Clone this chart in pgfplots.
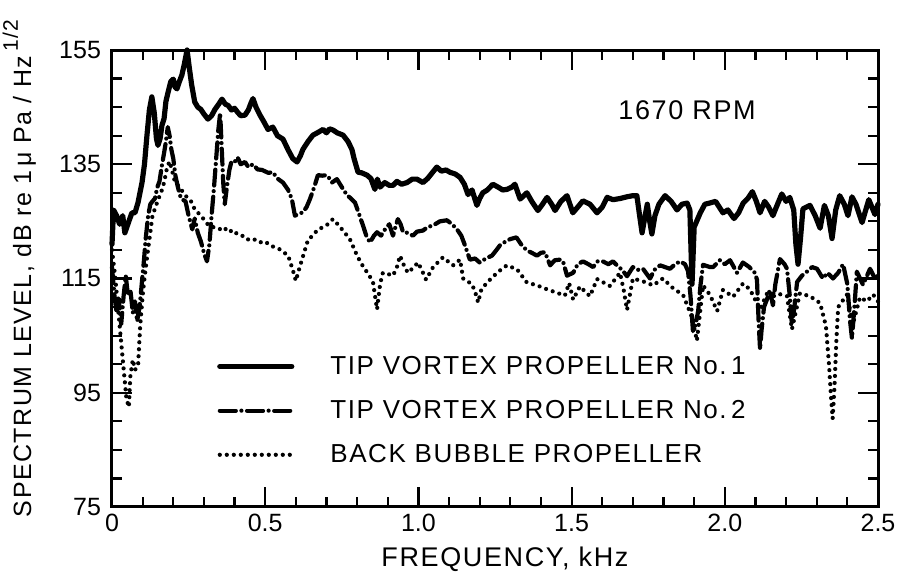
\documentclass[border=0pt]{standalone}
\usepackage{fontspec}
\setmainfont{Liberation Sans}
\newfontfamily\lt[LetterSpace=6]{Liberation Sans}
\usepackage{pgfplots}
\pgfplotsset{compat=1.18}
\begin{document}
\begin{tikzpicture}
\begin{axis}[
  at={(0,0)}, anchor=south west,
  scale only axis, width=383pt, height=228.5pt,
  xmin=0, xmax=2.5, ymin=75, ymax=155,
  xtick={0,0.5,1,1.5,2,2.5}, xticklabels={0,0.5,1.0,1.5,2.0,2.5},
  ytick={75,95,115,135,155}, yticklabels={75,95,115,135,155},
  minor x tick num=4, minor y tick num=3,
  tick align=inside, major tick length=10pt, minor tick length=5pt,
  axis line style={line width=1.5pt},
  every tick/.style={black, line width=1.1pt},
  tick label style={font=\fontsize{12.5}{14}\selectfont},
  yticklabel style={xshift=-2pt},
  xlabel={\lt\fontsize{13.5}{15}\selectfont FREQUENCY, kHz},
  xlabel style={at={(axis description cs:0.513,-0.114)}, anchor=center},
  ylabel={\lt\fontsize{12.5}{15}\selectfont SPECTRUM LEVEL, dB re 1\,μ Pa / Hz\,\raisebox{1.0ex}{\fontsize{10.5}{11}\selectfont 1/2}},
  ylabel style={at={(axis description cs:-0.121,0.522)}, anchor=center},
  clip=false,
  legend image code/.code={\draw[#1] (0pt,0pt) -- (36pt,0pt);},
  legend cell align=left,
  legend style={at={(axis description cs:0.129,0.349)}, anchor=north west,
    draw=none, fill=none, row sep=7.5pt, column sep=16pt,
    font=\lt\fontsize{13}{15}\selectfont},
]
\addplot[black, line width=2.6pt, line join=round, line cap=round] table {
0.000 121
0.005 127
0.015 126
0.025 124.5
0.035 126
0.042 123
0.055 125
0.065 126.5
0.075 126.5
0.085 128.3
0.098 131.8
0.106 135
0.114 140
0.122 144.5
0.130 146.8
0.138 144
0.145 139.5
0.150 138.3
0.157 139.5
0.163 141.8
0.170 143
0.176 146
0.183 147.6
0.192 149.5
0.200 149.9
0.206 148.5
0.212 148.2
0.220 149.5
0.228 150.6
0.236 152.5
0.245 155
0.252 152
0.260 148.9
0.270 145.9
0.280 145
0.290 144.6
0.300 143.8
0.313 142.9
0.325 143.5
0.336 144.6
0.348 145.5
0.359 146.4
0.370 145.5
0.379 145.3
0.390 144.5
0.400 144.8
0.410 144.1
0.420 143.5
0.434 143.6
0.445 144.5
0.452 145.5
0.460 146.5
0.470 145
0.483 143.6
0.495 142.5
0.509 141.1
0.525 141.5
0.540 140
0.558 139.4
0.575 137.5
0.590 136
0.604 135.4
0.615 136.5
0.623 137.6
0.640 139
0.656 140.1
0.670 140.5
0.689 141.1
0.700 140.5
0.710 141.2
0.721 141
0.735 140.5
0.754 140.1
0.770 139
0.783 137.6
0.790 136
0.803 133.6
0.815 133.5
0.832 133.1
0.845 132.5
0.858 130.6
0.866 132.4
0.875 131
0.890 131.8
0.905 131.3
0.917 131.3
0.930 132
0.945 131.5
0.963 131.8
0.980 132.4
0.995 132.4
1.015 131.8
1.030 132.5
1.045 133.5
1.060 134.5
1.075 133.8
1.090 134
1.103 133.6
1.120 133.3
1.136 132.7
1.150 131.5
1.162 129.7
1.175 130.5
1.191 127.8
1.200 129
1.210 130
1.225 130.5
1.243 131.5
1.260 131
1.275 130.5
1.289 130.6
1.305 131
1.315 131.5
1.332 128.9
1.354 130
1.370 128.5
1.390 126.9
1.405 128
1.420 129.2
1.435 128
1.446 126.9
1.465 128.5
1.485 129.5
1.504 126.5
1.520 127.5
1.537 128.6
1.560 128
1.583 126.5
1.600 127.5
1.616 129.2
1.635 128.8
1.658 129
1.680 129.3
1.700 129.5
1.713 129.5
1.722 126
1.730 123
1.740 126
1.747 128
1.755 125
1.762 122.8
1.772 126
1.785 128
1.805 129.5
1.825 128.5
1.844 127
1.860 128
1.877 128.2
1.886 127
1.893 114
1.900 124
1.920 126.5
1.935 128
1.950 128.2
1.970 128.5
1.994 126.5
2.010 127
2.030 125.5
2.045 126.5
2.060 128.2
2.075 129
2.090 130.2
2.103 128.5
2.115 126.5
2.130 128.5
2.143 127.5
2.157 126
2.172 128
2.186 129.8
2.200 128.5
2.212 129.2
2.225 127
2.232 121
2.239 117.5
2.247 122
2.255 127.2
2.278 127.8
2.295 126
2.311 123.8
2.325 127.8
2.338 126
2.350 122
2.362 127
2.375 129.5
2.390 128
2.402 126
2.415 129.3
2.428 128
2.448 124.8
2.460 127
2.470 128.8
2.480 127.5
2.490 126.2
2.500 128
};
\addplot[black, line width=2.1pt, line cap=round, line join=round, dash pattern=on 8pt off 2.8pt on 0pt off 2.8pt] table {
0.000 117
0.008 112
0.015 109
0.022 111.5
0.030 107
0.038 112
0.045 115.5
0.052 112
0.060 113
0.068 109
0.075 111
0.082 107.5
0.090 110
0.097 114
0.104 118
0.110 122
0.118 126
0.125 128
0.132 128.5
0.140 129
0.148 131
0.155 132
0.162 134.5
0.170 137
0.176 139
0.182 141.5
0.188 140
0.194 137.5
0.200 136
0.207 133
0.215 131
0.225 129
0.240 128.5
0.250 126
0.262 123.6
0.270 125.5
0.280 123
0.290 121.5
0.300 119.5
0.310 118
0.318 121
0.325 126
0.333 131
0.340 136
0.347 141
0.353 144
0.358 138
0.363 131.8
0.368 128
0.375 131
0.383 134
0.390 135.5
0.400 135.4
0.410 136.2
0.420 135
0.434 135.4
0.445 134.5
0.460 135
0.475 134.1
0.490 134
0.510 133.5
0.525 133.6
0.540 132.5
0.558 131.8
0.575 130.5
0.587 128.9
0.597 126
0.610 126.3
0.623 126.6
0.635 127.5
0.646 128.9
0.660 131
0.672 133.1
0.686 133
0.700 133.1
0.710 132.5
0.718 131.8
0.734 132.4
0.750 131
0.767 129.6
0.780 129
0.793 128.3
0.805 126.5
0.819 124.3
0.830 122.5
0.842 121.3
0.855 122.5
0.865 123.1
0.878 122.5
0.891 123.6
0.905 124.5
0.917 122.5
0.925 124
0.933 125.4
0.942 124.5
0.950 123.1
0.965 123
0.982 122.5
0.995 123.2
1.015 123.4
1.030 124
1.048 124.3
1.070 125
1.093 125.2
1.110 124.5
1.126 123.6
1.140 122.5
1.152 120.8
1.168 118.3
1.185 118.5
1.200 117.8
1.220 118.5
1.240 119
1.255 120
1.266 120.8
1.285 121.5
1.300 121.9
1.320 122.2
1.335 121
1.354 119.9
1.370 119.5
1.387 119
1.400 119.5
1.413 119.6
1.425 118
1.430 117.3
1.445 118.2
1.462 118.3
1.472 118
1.485 115.5
1.505 116
1.520 117.5
1.537 118
1.555 117.5
1.570 117
1.585 118
1.602 118
1.620 117.5
1.635 118
1.650 117.2
1.665 116.5
1.681 115.4
1.700 117
1.715 116.5
1.733 116.7
1.756 115
1.770 116.5
1.789 117.3
1.805 117
1.821 116.7
1.838 117.5
1.854 118
1.870 117.5
1.880 116.3
1.888 112
1.896 105.8
1.905 107
1.913 109.3
1.921 114
1.929 117.4
1.952 117
1.962 117
1.984 118.2
2.000 117.5
2.017 118.2
2.040 116
2.059 117.8
2.080 117
2.098 116
2.105 114.8
2.110 108
2.115 102.6
2.120 106
2.128 110
2.138 111.4
2.147 113
2.157 110.3
2.165 114
2.180 118.4
2.195 117.5
2.203 116.7
2.212 112
2.219 106.9
2.227 110
2.236 114.4
2.252 115.5
2.268 116.2
2.285 117
2.301 116.7
2.320 115
2.335 116
2.353 115
2.370 116
2.386 117.5
2.400 114
2.408 108
2.415 104.5
2.423 110
2.431 116.2
2.451 113.9
2.474 116.7
2.490 115
2.500 115.5
};
\addplot[black, line width=2.1pt, line cap=round, dash pattern=on 0pt off 3.5pt] table {
0.000 120
0.010 115.5
0.020 109.6
0.030 103.8
0.040 98
0.047 94
0.055 92.5
0.060 98
0.068 100.8
0.075 99
0.085 99.7
0.092 106.7
0.100 112
0.107 115.5
0.115 119
0.125 123
0.132 126
0.142 127.5
0.151 128.9
0.160 130
0.170 131.8
0.180 134.5
0.188 135.5
0.195 134.1
0.205 132
0.220 131
0.240 129.5
0.258 128.5
0.270 127.1
0.290 126
0.305 125
0.315 124.3
0.330 124
0.350 123.6
0.365 124
0.380 123.1
0.395 123.5
0.410 122.7
0.425 122.5
0.440 121.8
0.460 122
0.480 121.3
0.500 121.5
0.515 120.8
0.530 120.5
0.548 120.1
0.575 119
0.590 116.5
0.600 114.6
0.610 116.5
0.620 118.3
0.640 121.8
0.655 122.5
0.672 123.6
0.690 124
0.700 124.3
0.721 125.4
0.740 124.3
0.760 123
0.777 121.8
0.800 119
0.815 117.5
0.826 116.6
0.840 115.5
0.852 114.3
0.865 109.6
0.875 114
0.884 116
0.900 115.8
0.917 115.5
0.930 117
0.940 119
0.955 117
0.966 116
0.985 117
0.999 117.8
1.015 116
1.025 114.8
1.048 117
1.080 118.7
1.113 117.3
1.136 118.3
1.146 115
1.175 114
1.186 112.5
1.195 110.8
1.205 113
1.224 114.3
1.257 116
1.275 116.8
1.289 117.3
1.322 116.6
1.354 114.3
1.387 113.8
1.420 113.1
1.452 112.5
1.478 112
1.492 114.2
1.505 111.3
1.527 113.6
1.560 111.9
1.583 114.9
1.625 113.7
1.658 116
1.670 113
1.681 109.5
1.700 115
1.733 114.5
1.766 113.8
1.798 115
1.831 113.3
1.864 112.1
1.893 108.2
1.909 104.1
1.929 113.8
1.952 112.1
1.975 109.3
1.994 113
2.027 111.8
2.059 114.1
2.082 113.1
2.115 109.6
2.138 112.4
2.170 112.4
2.203 111.9
2.219 106.1
2.245 112.4
2.278 111.9
2.311 110.7
2.330 106.7
2.340 100
2.347 94
2.352 90.5
2.358 96
2.364 104
2.370 110
2.399 112.2
2.418 107
2.441 111.7
2.464 111
2.484 112.2
2.500 111
};
\legend{TIP VORTEX PROPELLER No.\,1, TIP VORTEX PROPELLER No.\,2, BACK BUBBLE PROPELLER}
\node[font=\lt\fontsize{13.5}{15}\selectfont] at (axis cs:1.877,144.5) {1670 RPM};
\end{axis}
\pgfresetboundingbox
\path[use as bounding box] (-56pt,-35pt) rectangle (396pt,253.5pt);
\end{tikzpicture}
\end{document}
